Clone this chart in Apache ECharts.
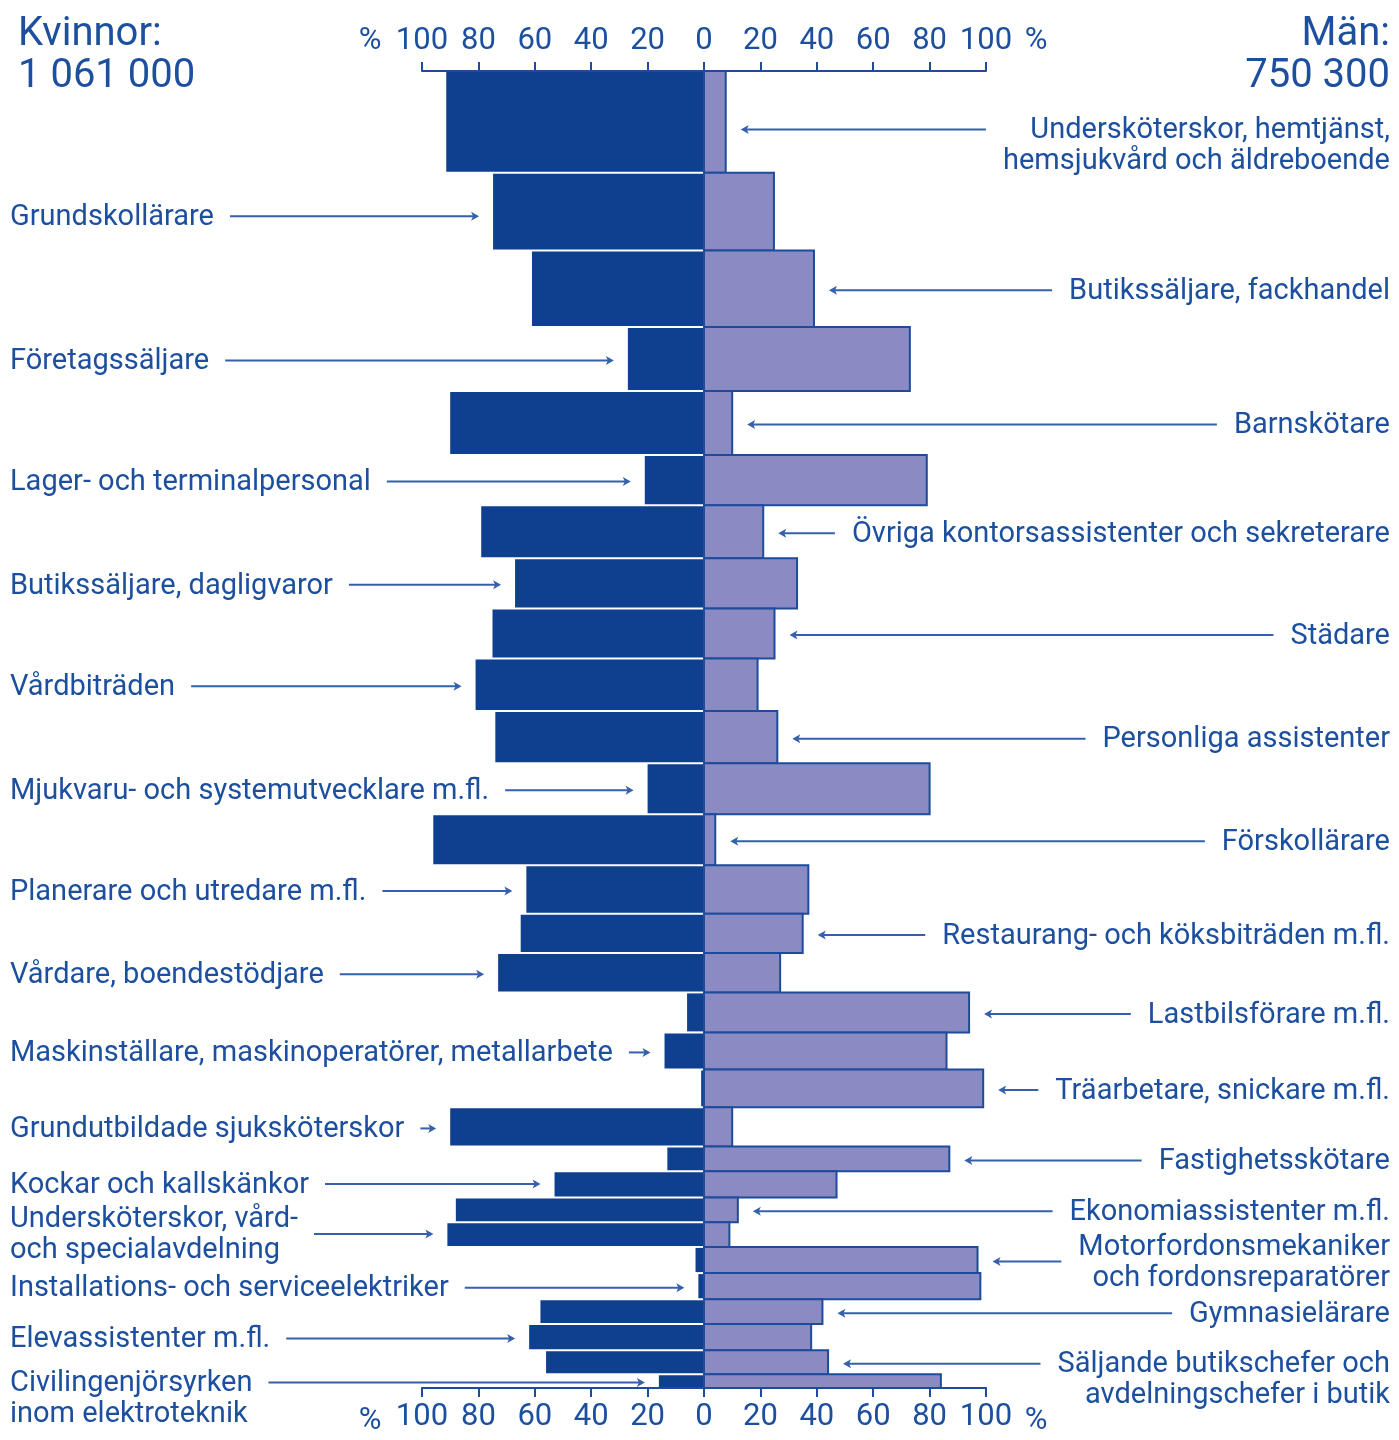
<!DOCTYPE html>
<html><head><meta charset="utf-8">
<script src="https://cdn.jsdelivr.net/npm/echarts@6/dist/echarts.min.js"></script>
<style>html,body{margin:0;padding:0;background:#fff}#c{width:1399px;height:1440px}</style>
</head><body><div id="c"></div>
<script>
// ---- data ----
const occupations = [
  "Undersköterskor, hemtjänst,\nhemsjukvård och äldreboende",
  "Grundskollärare",
  "Butikssäljare, fackhandel",
  "Företagssäljare",
  "Barnskötare",
  "Lager- och terminalpersonal",
  "Övriga kontorsassistenter och sekreterare",
  "Butikssäljare, dagligvaror",
  "Städare",
  "Vårdbiträden",
  "Personliga assistenter",
  "Mjukvaru- och systemutvecklare m.fl.",
  "Förskollärare",
  "Planerare och utredare m.fl.",
  "Restaurang- och köksbiträden m.fl.",
  "Vårdare, boendestödjare",
  "Lastbilsförare m.fl.",
  "Maskinställare, maskinoperatörer, metallarbete",
  "Träarbetare, snickare m.fl.",
  "Grundutbildade sjuksköterskor",
  "Fastighetsskötare",
  "Kockar och kallskänkor",
  "Ekonomiassistenter m.fl.",
  "Undersköterskor, vård-\noch specialavdelning",
  "Motorfordonsmekaniker\noch fordonsreparatörer",
  "Installations- och serviceelektriker",
  "Gymnasielärare",
  "Elevassistenter m.fl.",
  "Säljande butikschefer och\navdelningschefer i butik",
  "Civilingenjörsyrken\ninom elektroteknik"
];
// number employed (thousands), sets each row's height
const employed = [140,107,105,88,88,69,73,69,69,72,72,70,70,67,54,54,55,51,52,54,34,36,34,34,36,36,34,36,33,19];
const womenPct = [91.4,74.8,61,27,90,21,79,67,75,81,74,20,96,63,65,73,6,14,1,90,13,53,88,91,3,2,58,62,56,16];
const menPct   = [7.7,24.8,39,73,10,79,21,33,25,19,26,80,4,37,35,27,94,86,99,10,87,47,12,9,97,98,42,38,44,84];
const labelSide = ["R","L","R","L","R","L","R","L","R","L","R","L","R","L","R","L","R","L","R","L","R","L","R","L","R","L","R","L","R","L"];
const labelAnchor = ["top","mid","mid","mid","mid","mid","mid","mid","mid","mid","mid","mid","mid","mid","mid","mid","mid","mid","mid","mid","mid","mid","mid","mid","mid","mid","mid","mid","top","top"];
const labelShift = [6,3,0,0,0,0,0,0,0,0,0,0,0,0,0,0,0,0,0,0,0,-2,0,-2,0,0,0,0,0,0];
const womenTotal = "1 061 000";
const menTotal = "750 300";
const xTicks = [-100,-80,-60,-40,-20,0,20,40,60,80,100];

// ---- styles / layout ----
const TXT = '#1d4f9f', WOMEN = '#0f3f8f', MEN = '#8a8bc3', EDGE = '#1f4b9b', LEAD = '#3560ab';
const FONT = 'Roboto';
const LFS = 29, LLH = 31, LINE_DY = 1.5, TEXT_DY = 1.5;
const mc = document.createElement('canvas').getContext('2d');
mc.font = LFS + 'px ' + FONT;
const measure = s => mc.measureText(s).width;

let cum = 0;
const rows = employed.map((h, i) => { const s = cum; cum += h; return [s, cum, womenPct[i], menPct[i], i]; });
const total = cum;

function renderBar(params, api) {
  const s = api.value(0), e = api.value(1), w = api.value(2), m = api.value(3);
  const p0 = api.coord([0, s]), p1 = api.coord([0, e]);
  const wl = api.coord([-w, s])[0], mr = api.coord([m, s])[0];
  const h = p1[1] - p0[1];
  return { type: 'group', children: [
    { type: 'rect', shape: { x: wl, y: p0[1] + 1, width: p0[0] - wl, height: h - 2 }, style: { fill: WOMEN } },
    { type: 'rect', shape: { x: p0[0], y: p0[1], width: mr - p0[0], height: h }, style: { fill: MEN, stroke: EDGE, lineWidth: 2 } }
  ]};
}

function renderLabel(params, api) {
  const s = api.value(0), e = api.value(1), w = api.value(2), m = api.value(3), i = api.value(4);
  const cy = (api.coord([0, s])[1] + api.coord([0, e])[1]) / 2 + labelShift[i] + LINE_DY;
  const lines = occupations[i].split('\n');
  const tw = Math.max.apply(null, lines.map(measure));
  const ty = (labelAnchor[i] === 'top' ? cy + LLH * (lines.length - 1) / 2 : cy) + TEXT_DY;
  const ch = [];
  if (labelSide[i] === 'L') {
    const tx = 10;
    const x1 = tx + tw + 16;
    const tip = api.coord([-w, s])[0] - 14;
    ch.push({ type: 'text', style: { text: occupations[i], x: tx, y: ty, fill: TXT, font: LFS + 'px ' + FONT, align: 'left', verticalAlign: 'middle', lineHeight: LLH } });
    ch.push({ type: 'line', shape: { x1: x1, y1: cy, x2: tip - 4, y2: cy }, style: { stroke: LEAD, lineWidth: 2 } });
    ch.push({ type: 'polygon', shape: { points: [[tip, cy], [tip - 8, cy - 4.5], [tip - 6, cy], [tip - 8, cy + 4.5]] }, style: { fill: LEAD } });
  } else {
    const tx = 1390;
    const x1 = tx - tw - 17;
    const tip = api.coord([m, s])[0] + 15;
    ch.push({ type: 'text', style: { text: occupations[i], x: tx, y: ty, fill: TXT, font: LFS + 'px ' + FONT, align: 'right', verticalAlign: 'middle', lineHeight: LLH } });
    ch.push({ type: 'line', shape: { x1: tip + 4, y1: cy, x2: x1, y2: cy }, style: { stroke: LEAD, lineWidth: 2 } });
    ch.push({ type: 'polygon', shape: { points: [[tip, cy], [tip + 8, cy - 4.5], [tip + 6, cy], [tip + 8, cy + 4.5]] }, style: { fill: LEAD } });
  }
  return { type: 'group', children: ch };
}

function xAxisCfg(pos, margin) {
  return {
    type: 'value', position: pos, min: xTicks[0], max: xTicks[xTicks.length - 1], interval: xTicks[1] - xTicks[0],
    axisLine: { show: true, onZero: false, lineStyle: { color: EDGE, width: 2 } },
    axisTick: { show: true, inside: false, length: 9, lineStyle: { color: EDGE, width: 2 } },
    axisLabel: { margin: margin, fontSize: 31, fontFamily: FONT, color: TXT, formatter: v => String(Math.abs(v)) },
    splitLine: { show: false }
  };
}

const chart = echarts.init(document.getElementById('c'), null, { renderer: 'canvas' });
const txt = (t, x, y, align, fs) => ({ type: 'text', x: x, y: y, style: { text: t, fill: TXT, font: fs + 'px ' + FONT, align: align, verticalAlign: 'middle' } });
chart.setOption({
  animation: false,
  backgroundColor: '#fff',
  grid: { left: 422, right: 413, top: 71, bottom: 52 },
  xAxis: [xAxisCfg('top', 14), xAxisCfg('bottom', 14)],
  yAxis: { type: 'value', min: 0, max: total, inverse: true, show: false },
  graphic: [
    txt('Kvinnor:', 18, 35, 'left', 40),
    txt(womenTotal, 18, 77, 'left', 40),
    txt('Män:', 1390, 35, 'right', 40),
    txt(menTotal, 1390, 77, 'right', 40),
    txt('%', 370, 41, 'center', 31),
    txt('%', 1036, 41, 'center', 31),
    txt('%', 370, 1421, 'center', 31),
    txt('%', 1036, 1421, 'center', 31)
  ],
  series: [
    { type: 'custom', xAxisIndex: 0, renderItem: renderBar, data: rows, clip: false, z: 2 },
    { type: 'custom', xAxisIndex: 0, renderItem: renderLabel, data: rows, clip: false, z: 3 }
  ]
});
</script></body></html>
